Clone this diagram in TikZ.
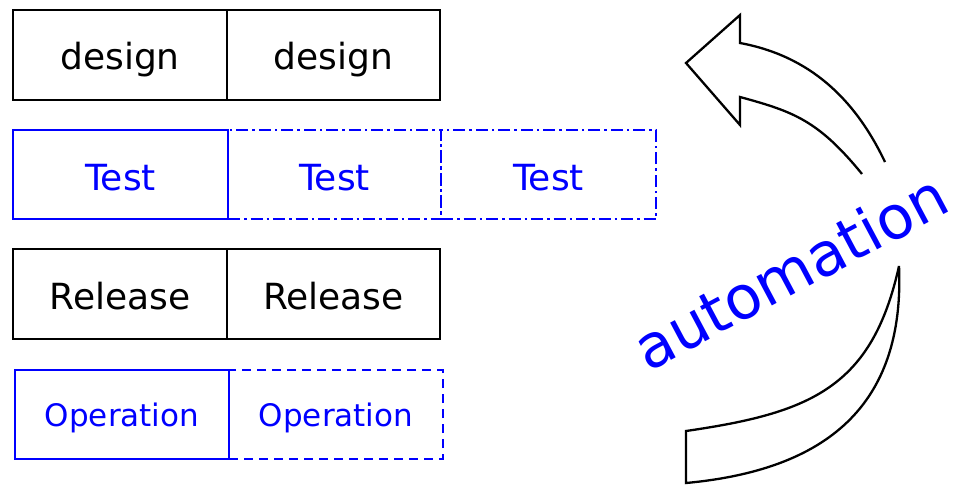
\documentclass[tikz,border=0pt]{standalone}
\usepackage{fontspec}
\setmainfont{DejaVu Sans}
\definecolor{pblue}{RGB}{0,0,255}
\begin{document}
\begin{tikzpicture}[x=1pt,y=-1pt,
  box/.style={draw=black,line width=2.5pt,inner sep=0pt,font=\fontsize{36}{42}\selectfont,text depth=0pt},
  bsolid/.style={draw=pblue,line width=2.5pt,inner sep=0pt,text=pblue,font=\fontsize{36}{42}\selectfont,text depth=0pt},
  bdashdot/.style={bsolid,dash pattern=on 12pt off 4pt on 2.5pt off 4pt},
  bdashed/.style={bsolid,dash pattern=on 9pt off 6pt},
  opfont/.style={font=\fontsize{31}{36}\selectfont},
  arrowline/.style={draw=black,line width=2.3pt,line join=miter}]
\useasboundingbox (0,0) rectangle (957,487);
% row 1
\node[box,text height=28.6pt,minimum width=214pt,minimum height=90pt] (d1) at (120,55) {design};
\node[box,text height=28.6pt,minimum width=213pt,minimum height=90pt] (d2) at (333.5,55) {design};
% row 2
\node[bsolid,text height=32pt,minimum width=215pt,minimum height=89pt] (t1) at (120.5,174.5) {Test};
\node[bdashdot,text height=32pt,minimum width=213pt,minimum height=89pt] (t2) at (334.5,174.5) {Test};
\node[bdashdot,text height=32pt,minimum width=215pt,minimum height=89pt] (t3) at (548.5,174.5) {Test};
% row 3
\node[box,text height=30.6pt,minimum width=214pt,minimum height=90pt] (r1) at (120,294) {Release};
\node[box,text height=30.6pt,minimum width=213pt,minimum height=90pt] (r2) at (333.5,294) {Release};
% row 4
\node[bsolid,opfont,text height=24.4pt,minimum width=214pt,minimum height=89pt] (o1) at (122,414.5) {Operation};
\node[bdashed,opfont,text height=24.4pt,minimum width=214pt,minimum height=89pt] (o2) at (336,414.5) {Operation};
% curved arrow, top piece (head)
\draw[arrowline] (885,162) .. controls (855,99) and (810,56) .. (740,43)
  -- (740,15) -- (686,63) -- (740,125) -- (740,97)
  .. controls (793,111.5) and (818,120) .. (862,174);
% curved arrow, bottom piece (tail)
\draw[arrowline] (899,266) .. controls (905,406) and (826,470) .. (686,483)
  -- (686,431)
  .. controls (810,413) and (872,388) .. (899,266);
% label
\node[anchor=base,rotate=28,inner sep=0pt,text=pblue,font=\fontsize{60}{70}\selectfont] (auto) at (801,291) {automation};
\end{tikzpicture}
\end{document}
